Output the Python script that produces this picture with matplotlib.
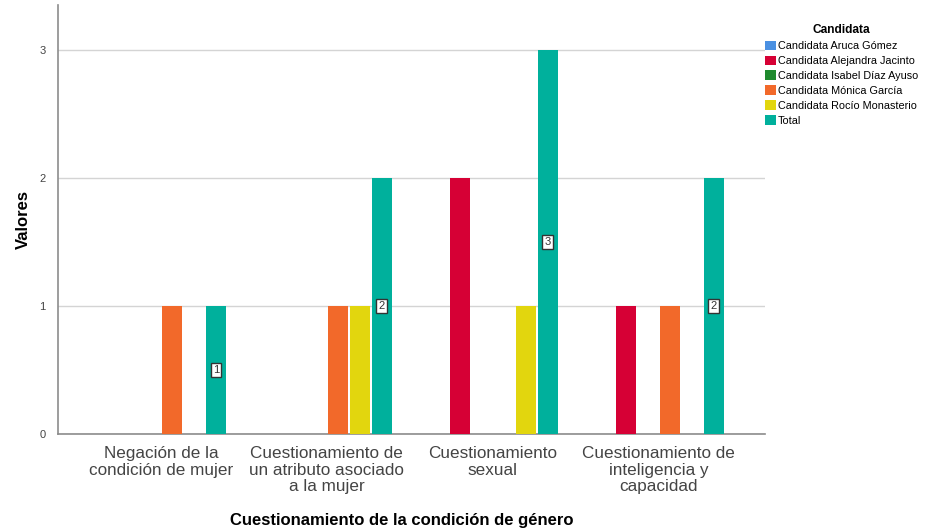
import numpy as np
import matplotlib.pyplot as plt

plt.rcParams['font.family'] = ['Liberation Sans', 'DejaVu Sans']

categorias = ["Negación de la\ncondición de mujer",
              "Cuestionamiento de\nun atributo asociado\na la mujer",
              "Cuestionamiento\nsexual",
              "Cuestionamiento de\ninteligencia y\ncapacidad"]
candidatas = ["Candidata Aruca Gómez", "Candidata Alejandra Jacinto",
              "Candidata Isabel Díaz Ayuso", "Candidata Mónica García",
              "Candidata Rocío Monasterio", "Total"]
colores = ["#4a90e2", "#d60035", "#1f8a2e", "#f2692a", "#e2d60e", "#00b09c"]

# valores por candidata (una fila por serie, una columna por categoria)
aruca = [0, 0, 0, 0]
jacinto = [0, 0, 2, 1]
ayuso = [0, 0, 0, 0]
garcia = [1, 1, 0, 1]
monasterio = [0, 1, 1, 0]
total = [1, 2, 3, 2]
series = [aruca, jacinto, ayuso, garcia, monasterio, total]

fig = plt.figure(figsize=(9.31, 5.31), dpi=100)
ax = fig.add_axes([0.0623, 0.1827, 0.7594, 0.808])

x = np.arange(len(categorias))
paso = 0.1325
ancho = 0.12
for i, (vals, nombre, col) in enumerate(zip(series, candidatas, colores)):
    pos = x + (i - 2.5) * paso
    ax.bar(pos, vals, width=ancho, color=col, label=nombre, zorder=3)

# etiquetas del total
for xi, v in zip(x + 2.5 * paso, total):
    ax.text(xi, v / 2, str(v), ha="center", va="center", fontsize=8,
            color="#333333", zorder=4,
            bbox=dict(boxstyle="square,pad=0.2", fc="white", ec="#333333", lw=1))

ax.set_xlim(-0.62, 3.64)
ax.set_ylim(0, 3.35)
ax.set_yticks([0, 1, 2, 3])
ax.set_xticks(x)
ax.set_xticklabels(categorias, fontsize=12.3, color="#444444", linespacing=1.12)
ax.tick_params(axis="y", length=0, labelsize=8, labelcolor="#444444", pad=9)
ax.tick_params(axis="x", length=0, pad=9)
ax.grid(axis="y", color="#d4d4d4", lw=1, zorder=0)
for s in ["top", "right"]:
    ax.spines[s].set_visible(False)
for s in ["left", "bottom"]:
    ax.spines[s].set_color("#8c8c8c")
    ax.spines[s].set_linewidth(1.2)

ax.set_ylabel("Valores", fontsize=12, fontweight="bold", labelpad=6)
fig.text(0.431, 0.005, "Cuestionamiento de la condición de género",
         ha="center", va="bottom", fontsize=12, fontweight="bold")

leg = ax.legend(loc="upper left", bbox_to_anchor=(0.994, 0.965), frameon=False,
                fontsize=7.8, title="Candidata", handlelength=1.0, handleheight=1.0,
                handletextpad=0.2, labelspacing=0.4, borderaxespad=0)
leg.get_title().set_fontweight("bold")
leg.get_title().set_fontsize(8.6)

fig.savefig("out.png", dpi=100)
